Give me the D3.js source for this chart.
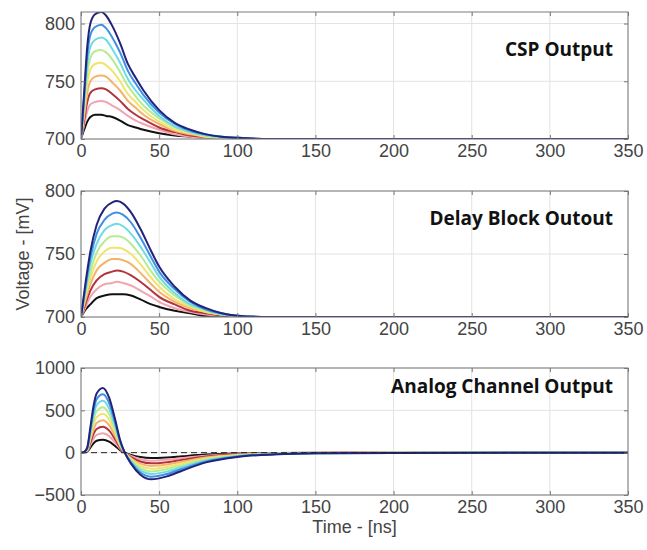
<html>
<head>
<meta charset="utf-8">
<title>Channel outputs</title>
<script src="https://d3js.org/d3.v7.min.js"></script>
<style>
  body { margin: 0; background: #fff; }
  text { font-family: "Liberation Sans", Arial, sans-serif; }
</style>
</head>
<body>
<div id="main-svg"></div>
<script>
// time samples (ns) for each panel
var cspTime = [0, 2, 4, 6, 9, 13, 16, 20, 25, 30, 35, 40, 50, 60, 70, 80, 90, 100, 120, 350];
var delayTime = [0, 3, 6, 10, 15, 20, 23, 27, 32, 38, 45, 50, 60, 70, 80, 90, 100, 120, 350];
var analogTime = [0, 2, 4, 6, 8, 10, 14, 18, 22, 25, 28, 32, 38, 45, 55, 65, 80, 100, 125, 150, 200, 350];

// CSP output (mV), one row per injected charge, smallest first
var cspOut = [
    [700, 708, 715, 719, 721, 721, 720, 719, 716, 712, 710, 708, 705, 703, 702, 701, 700, 700, 700, 700],
    [700, 712, 724, 730, 732, 733, 732, 729, 725, 720, 716, 713, 708, 704, 702, 701, 701, 700, 700, 700],
    [700, 716, 732, 740, 743, 744, 743, 739, 733, 726, 721, 717, 710, 706, 703, 702, 701, 700, 700, 700],
    [700, 720, 740, 750, 754, 755, 754, 749, 742, 733, 727, 721, 713, 707, 704, 702, 701, 701, 700, 700],
    [700, 724, 748, 760, 765, 766, 764, 759, 750, 739, 732, 725, 715, 708, 705, 702, 701, 701, 700, 700],
    [700, 728, 756, 770, 776, 777, 775, 769, 758, 746, 737, 729, 718, 710, 706, 703, 701, 701, 700, 700],
    [700, 732, 764, 780, 786, 788, 786, 778, 766, 752, 742, 734, 720, 711, 706, 703, 702, 701, 700, 700],
    [700, 736, 772, 790, 797, 799, 796, 788, 775, 759, 748, 738, 723, 713, 707, 704, 702, 701, 700, 700],
    [700, 740, 780, 800, 808, 810, 807, 798, 783, 765, 753, 742, 725, 714, 708, 704, 702, 701, 700, 700]
];

// delay block output (mV)
var delayOut = [
    [700, 706, 710, 715, 717, 718, 718, 718, 717, 714, 710, 708, 705, 703, 701, 701, 700, 700, 700],
    [700, 708, 716, 722, 726, 727, 728, 727, 725, 721, 716, 712, 707, 704, 702, 701, 700, 700, 700],
    [700, 711, 721, 729, 734, 736, 737, 736, 733, 728, 721, 716, 710, 705, 703, 701, 700, 700, 700],
    [700, 714, 726, 737, 743, 746, 746, 745, 742, 735, 726, 720, 712, 707, 704, 702, 701, 700, 700],
    [700, 717, 731, 744, 752, 755, 755, 754, 750, 742, 731, 724, 714, 708, 704, 702, 701, 700, 700],
    [700, 720, 736, 751, 760, 764, 764, 763, 758, 749, 736, 728, 717, 709, 705, 702, 701, 700, 700],
    [700, 722, 742, 758, 769, 773, 774, 772, 766, 756, 742, 732, 719, 710, 706, 702, 701, 700, 700],
    [700, 725, 747, 766, 777, 782, 783, 781, 775, 763, 747, 736, 722, 712, 706, 703, 701, 700, 700],
    [700, 728, 752, 773, 786, 791, 792, 790, 783, 770, 752, 740, 724, 713, 707, 703, 701, 700, 700]
];

// analog channel output (mV)
var analogOut = [
    [0, 2, 12, 60, 110, 140, 153, 130, 76, 30, 0, -26, -52, -63, -56, -42, -23, -10, -4, -2, -1, 0],
    [0, 3, 18, 90, 165, 210, 230, 195, 114, 45, 0, -39, -78, -95, -84, -63, -35, -15, -6, -2, -1, 0],
    [0, 4, 24, 120, 220, 280, 306, 260, 152, 60, 0, -52, -104, -126, -112, -84, -46, -20, -8, -3, -1, 0],
    [0, 5, 30, 150, 275, 350, 383, 325, 190, 75, 0, -65, -130, -158, -140, -105, -58, -25, -10, -4, -2, 0],
    [0, 6, 36, 180, 330, 420, 459, 390, 228, 90, 0, -78, -156, -189, -168, -126, -69, -30, -12, -5, -2, 0],
    [0, 7, 42, 210, 385, 490, 536, 455, 266, 105, 0, -91, -182, -221, -196, -147, -81, -35, -14, -6, -2, 0],
    [0, 8, 48, 240, 440, 560, 612, 520, 304, 120, 0, -104, -208, -252, -224, -168, -92, -40, -16, -6, -2, 0],
    [0, 9, 54, 270, 495, 630, 689, 585, 342, 135, 0, -117, -234, -284, -252, -189, -104, -45, -18, -7, -3, 0],
    [0, 10, 60, 300, 550, 700, 765, 650, 380, 150, 0, -130, -260, -315, -280, -210, -115, -50, -20, -8, -3, 0]
];

var curveColors = ["#111111", "#f4a3b0", "#b3333d", "#f5b26b", "#f2e36c", "#b7eb8f", "#6ddbe6", "#3f8fe3", "#22237a"];
var xTicks = [0, 50, 100, 150, 200, 250, 300, 350];
var cspTicks = [700, 750, 800];
var delayTicks = [700, 750, 800];
var analogTicks = [-500, 0, 500, 1000];
var titles = ["CSP Output", "Delay Block Outout", "Analog Channel Output"];

var width = 647, height = 550;
var left = 81, right = 628;

var panels = [
    { time: cspTime, rows: cspOut, domain: [700, 810], ticks: cspTicks, top: 12, bottom: 139, titleY: 56 },
    { time: delayTime, rows: delayOut, domain: [700, 800], ticks: delayTicks, top: 191, bottom: 317, titleY: 225 },
    { time: analogTime, rows: analogOut, domain: [-500, 1000], ticks: analogTicks, top: 368, bottom: 495, titleY: 393, zero: true }
];

var svg = d3.select("#main-svg").append("svg")
    .attr("width", width)
    .attr("height", height)
    .style("background", "#fff");

var x = d3.scaleLinear().domain([0, 350]).range([left, right]);

panels.forEach(function (p, k) {
    var y = d3.scaleLinear().domain(p.domain).range([p.bottom, p.top]);
    var g = svg.append("g");

    // grid
    g.selectAll(".vgrid").data(xTicks).enter().append("line")
        .attr("x1", function (d) { return x(d); }).attr("x2", function (d) { return x(d); })
        .attr("y1", p.top).attr("y2", p.bottom)
        .style("stroke", "#e3e3e3");
    g.selectAll(".hgrid").data(p.ticks).enter().append("line")
        .attr("x1", left).attr("x2", right)
        .attr("y1", function (d) { return y(d); }).attr("y2", function (d) { return y(d); })
        .style("stroke", "#e3e3e3");

    var clipId = "clip" + k;
    svg.append("clipPath").attr("id", clipId).append("rect")
        .attr("x", left).attr("y", p.top).attr("width", right - left).attr("height", p.bottom - p.top);

    var line = d3.line()
        .x(function (d, i) { return x(p.time[i]); })
        .y(function (d) { return y(d); })
        .curve(d3.curveMonotoneX);

    g.append("g").attr("clip-path", "url(#" + clipId + ")")
        .selectAll("path").data(p.rows).enter().append("path")
        .attr("d", line)
        .style("fill", "none")
        .style("stroke", function (d, i) { return curveColors[i]; })
        .style("stroke-width", 2);

    if (p.zero) {
        g.append("line")
            .attr("x1", left).attr("x2", right)
            .attr("y1", y(0)).attr("y2", y(0))
            .style("stroke", "#222")
            .style("stroke-width", 1)
            .style("stroke-dasharray", "6,4");
    }

    // axes, ticks inward
    var ax = [
        g.append("g").attr("transform", "translate(0," + p.bottom + ")")
            .call(d3.axisBottom(x).tickValues(xTicks).tickSize(-4).tickPadding(5).tickFormat(d3.format("d"))),
        g.append("g").attr("transform", "translate(" + left + ",0)")
            .call(d3.axisLeft(y).tickValues(p.ticks).tickSize(-4).tickPadding(6).tickFormat(d3.format("d"))),
        g.append("g").attr("transform", "translate(0," + p.top + ")")
            .call(d3.axisTop(x).tickValues(xTicks).tickSize(-4).tickFormat("")),
        g.append("g").attr("transform", "translate(" + right + ",0)")
            .call(d3.axisRight(y).tickValues(p.ticks).tickSize(-4).tickFormat(""))
    ];
    ax.forEach(function (a) {
        a.select(".domain").remove();
        a.selectAll("line").style("stroke", "#777");
        a.selectAll("text")
            .style("font-family", "'Liberation Sans', Arial, sans-serif")
            .style("font-size", "18px")
            .style("fill", "#444");
    });

    g.append("rect")
        .attr("x", left).attr("y", p.top)
        .attr("width", right - left).attr("height", p.bottom - p.top)
        .style("fill", "none").style("stroke", "#7a7a7a");

    g.append("text")
        .attr("x", 613).attr("y", p.titleY)
        .attr("text-anchor", "end")
        .style("font-family", "'Open Sans', sans-serif")
        .style("font-weight", "bold")
        .style("font-size", "19px")
        .style("fill", "#111")
        .text(titles[k]);
});

svg.append("text")
    .attr("transform", "translate(29,254) rotate(-90)")
    .attr("text-anchor", "middle")
    .style("font-size", "18px")
    .style("fill", "#444")
    .text("Voltage - [mV]");

svg.append("text")
    .attr("x", (left + right) / 2).attr("y", 533)
    .attr("text-anchor", "middle")
    .style("font-size", "18px")
    .style("fill", "#444")
    .text("Time - [ns]");
</script>
</body>
</html>
